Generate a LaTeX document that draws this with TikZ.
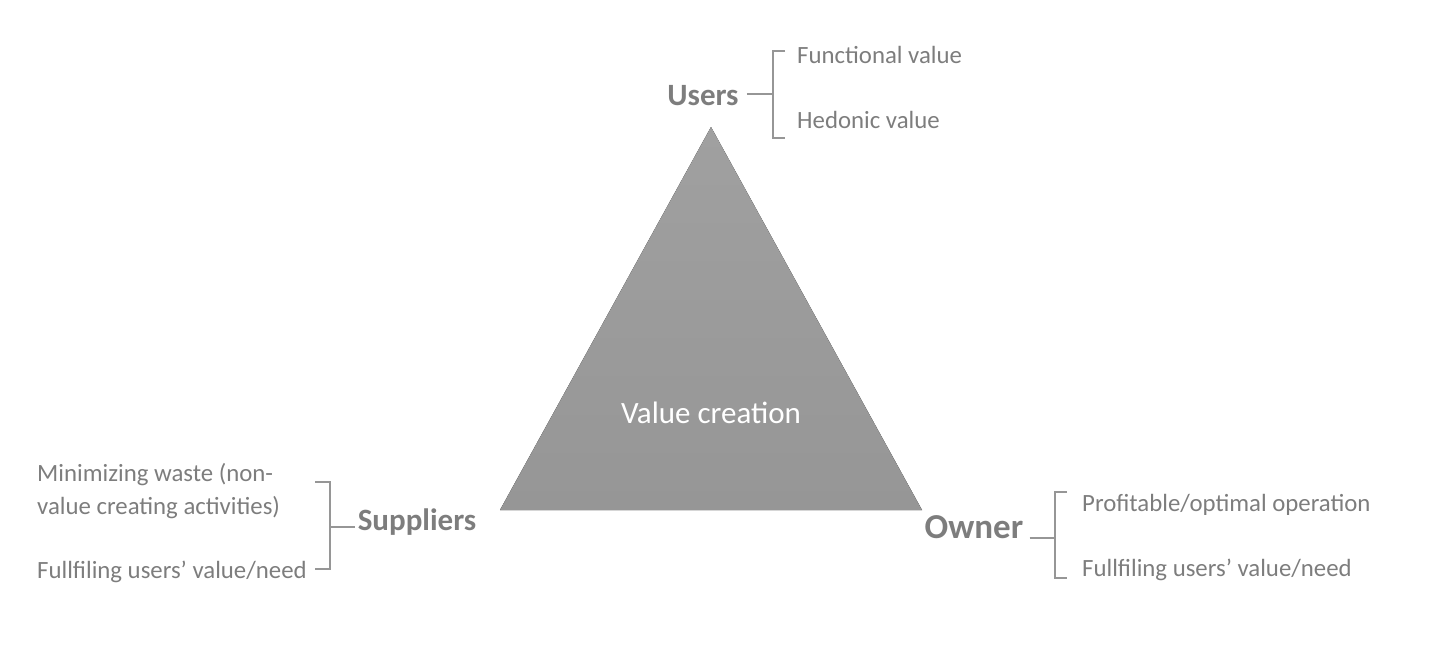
\documentclass[tikz,border=0pt]{standalone}
\usepackage{fontspec}
\setmainfont{Carlito}
\definecolor{txt}{RGB}{125,125,125}
\definecolor{brk}{RGB}{150,150,150}
\definecolor{tritop}{RGB}{160,160,160}
\definecolor{tribot}{RGB}{150,150,150}
\begin{document}
\begin{tikzpicture}[x=1pt,y=-1pt,
  lab/.style={font=\fontsize{31}{31}\selectfont\bfseries, text=txt, inner sep=0pt},
  item/.style={font=\fontsize{24.8}{33}\selectfont, text=txt, inner sep=0pt, anchor=west, align=left},
  brace/.style={draw=brk, line width=2pt}]
\useasboundingbox (0,0) rectangle (1456,648);
% triangle
\coordinate (apex) at (711,127);
\coordinate (bl) at (500,510);
\coordinate (br) at (922,510);
\fill[top color=tritop, bottom color=tribot] (apex) -- (br) -- (bl) -- cycle;
\node[font=\fontsize{31}{31}\selectfont, text=white, inner sep=0pt] (vc) at (711,413) {Value creation};
% Users
\node[lab] (users) at (703,96) {Users};
\node[item] (fv) at (797,55) {Functional value};
\node[item] (hv) at (797,120) {Hedonic value};
\coordinate (ut1) at (785,51);
\coordinate (ut2) at (773,51);
\coordinate (ub1) at (785,138);
\coordinate (ub2) at (773,138);
\coordinate (um) at (773,94);
\draw[brace] (ut1) -- (ut2) -- (ub2) -- (ub1);
\draw[brace] ([xshift=8pt]users.east |- um) -- (um);
% Suppliers
\node[lab] (sup) at (417,522) {Suppliers};
\node[item] (s1) at (37,491) {Minimizing waste (non-\\value creating activities)};
\node[item] (s2) at (37,572) {Fullfiling users’ value/need};
\coordinate (st1) at (315,482);
\coordinate (st2) at (330,482);
\coordinate (sb1) at (315,569);
\coordinate (sb2) at (330,569);
\coordinate (sm) at (330,527);
\draw[brace] (st1) -- (st2) -- (sb2) -- (sb1);
\draw[brace] (sm) -- ([xshift=-3pt]sup.west |- sm);
% Owner
\node[lab, font=\fontsize{35}{35}\selectfont\bfseries] (own) at (974,527) {Owner};
\node[item] (o1) at (1082,505) {Profitable/optimal operation};
\node[item] (o2) at (1082,570) {Fullfiling users’ value/need};
\coordinate (ot1) at (1067,492);
\coordinate (ot2) at (1055,492);
\coordinate (ob1) at (1067,578);
\coordinate (ob2) at (1055,578);
\coordinate (om) at (1055,538);
\draw[brace] (ot1) -- (ot2) -- (ob2) -- (ob1);
\draw[brace] ([xshift=6pt]own.east |- om) -- (om);
\end{tikzpicture}
\end{document}
